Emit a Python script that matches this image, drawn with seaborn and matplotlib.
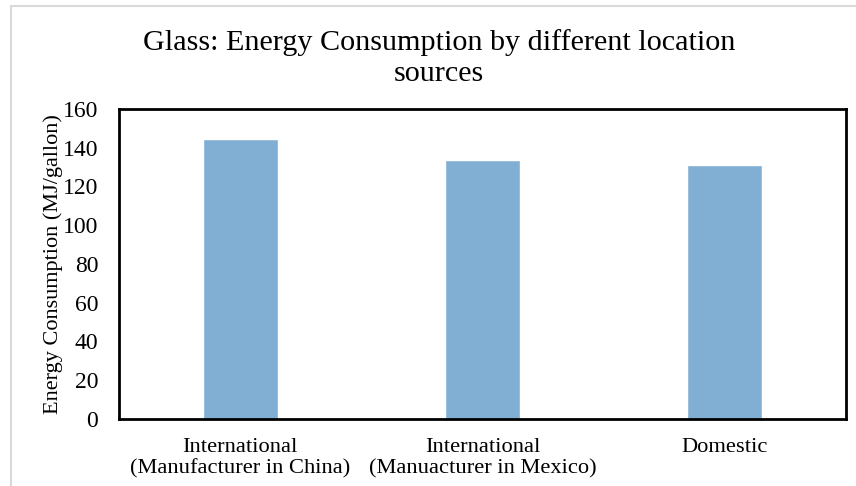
import matplotlib
matplotlib.use("Agg")
import matplotlib.pyplot as plt
from matplotlib.patches import Rectangle
import seaborn as sns
import pandas as pd

categories = [
    "International\n(Manufacturer in China)",
    "International\n(Manuacturer in Mexico)",
    "Domestic",
]
energy = [144.3, 133.4, 131.0]
y_ticks = [0, 20, 40, 60, 80, 100, 120, 140, 160]

df = pd.DataFrame({"source": categories, "energy": energy})

sns.set_theme(style="white")
plt.rcParams["font.family"] = ["Liberation Serif", "DejaVu Serif"]
plt.rcParams.update({
    "text.color": "black",
    "axes.labelcolor": "black",
    "xtick.color": "black",
    "ytick.color": "black",
})

fig = plt.figure(figsize=(8.56, 4.86), dpi=100)
ax = fig.add_axes([0.139, 0.138, 0.849, 0.638])

sns.barplot(data=df, x="source", y="energy", color="#81AFD3",
            saturation=1, width=0.31, ax=ax)

ax.set_ylim(0, 160)
ax.set_xlim(-0.5, 2.5)
ax.set_yticks(y_ticks)
ax.set_yticklabels([str(t) for t in y_ticks], fontsize=17)
ax.tick_params(axis="x", labelsize=16.2, length=0, pad=14)
ax.tick_params(axis="y", length=0, pad=15)
for lbl in ax.get_xticklabels():
    lbl.set_linespacing(1.15)
ax.set_xlabel("")
ax.set_ylabel("Energy Consumption (MJ/gallon)", fontsize=16, labelpad=0)

for s in ax.spines.values():
    s.set_visible(True)
    s.set_color("black")
    s.set_linewidth(2)

fig.text(0.513, 0.881, "Glass: Energy Consumption by different location\nsources",
         ha="center", va="center", fontsize=21.7, linespacing=1.24)

# light gray chart-area border
fig.patches.append(Rectangle((11 / 856, -0.1), 2.0, 1.1 - 6 / 486,
                             transform=fig.transFigure, fill=False,
                             edgecolor="#d9d9d9", linewidth=1.5))

fig.savefig("out.png", dpi=100, facecolor="white")
